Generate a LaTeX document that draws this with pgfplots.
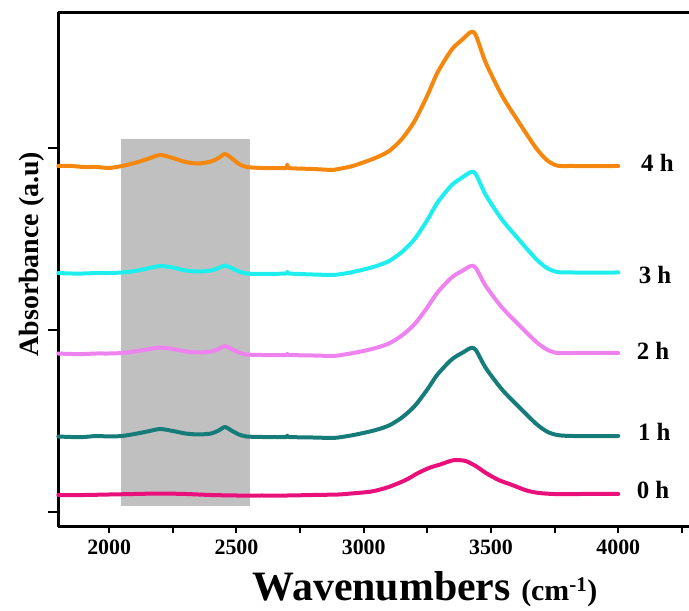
\documentclass[border=0pt]{standalone}
\usepackage{pgfplots}
\pgfplotsset{compat=1.18}
\usepackage{fontspec}
\setmainfont{Liberation Serif}
\definecolor{c0}{RGB}{234,16,124}
\definecolor{c1}{RGB}{22,124,122}
\definecolor{c2}{RGB}{238,130,238}
\definecolor{c3}{RGB}{30,238,238}
\definecolor{c4}{RGB}{245,135,15}
\definecolor{shade}{RGB}{192,192,192}
\begin{document}
\begin{tikzpicture}
\begin{axis}[
  at={(58.3bp,84.3bp)}, anchor=south west,
  width=630.7bp, height=514.4bp, scale only axis,
  xmin=1800, xmax=4278, ymin=-14.7, ymax=499.7,
  axis y line*=left,
  axis line style={line width=2.5bp},
  every tick/.style={black, line width=2bp},
  tick align=outside, xtick pos=bottom,
  major tick length=6bp, minor tick length=6bp,
  xtick={2000,2500,3000,3500,4000},
  xticklabels={2000,2500,3000,3500,4000},
  minor xtick={2250,2750,3250,3750,4250},
  ytick=\empty,
  extra y ticks={0,182,364}, extra y tick labels={},
  extra y tick style={major tick length=10bp},
  /pgf/number format/assume math mode=true,
  tick label style={font=\bfseries\fontsize{22}{22}\selectfont},
  xticklabel style={yshift=-4bp},
  xlabel={\bfseries\fontsize{42}{42}\selectfont Wavenumbers \fontsize{30}{30}\selectfont(cm\textsuperscript{-1})},
  xlabel style={at={(axis description cs:0.5814,-0.143)}, anchor=base},
  ylabel={\bfseries\fontsize{28}{28}\selectfont Absorbance (a.u)},
  ylabel style={at={(axis description cs:-0.032,0.53)}, anchor=base},
  clip=false,
  every axis plot/.append style={line width=4bp, line join=round, line cap=round, smooth, tension=0.45},
]
\addplot[fill=shade, draw=none, line width=0pt, sharp plot] coordinates {(2046,6) (2553,6) (2553,373) (2046,373)} -- cycle;

% 0 h
\addplot[c0] coordinates {
(1800,17)(1900,17)(2000,17.5)(2100,18)(2200,18.5)(2300,18)(2400,17)(2500,16.5)(2600,16.5)(2700,16.5)(2800,17)(2900,17.5)(2950,18.5)
(3031,20.5)(3098,25)(3165,32)(3210,38.5)(3256,44)(3300,47.5)(3340,51)(3362,52)(3400,51)(3440,46)(3480,39)(3530,32)(3583,27)(3640,21.5)(3689,19)(3750,18)(3850,18)(4000,18)};

% 1 h
\addplot[c1] coordinates {
(1800,75.5)(1850,75)(1900,75)(1950,76)(2000,75.5)(2050,76)(2100,78)(2150,80.5)(2200,83)(2250,81)(2300,78.5)(2350,77.5)(2400,78.5)(2430,81.5)(2455,85)(2480,81.5)(2510,77.5)(2540,75.5)(2600,75)(2650,75)(2695,75)(2700,76.5)(2705,75)(2800,74.5)(2880,74)(2900,74.5)
(2950,76.5)(3000,79.1)(3050,82.2)(3100,86.6)(3150,94.5)(3200,105.9)(3250,122.6)(3290,137.6)(3346,152.6)(3390,159.6)(3421,164)(3440,162.2)(3480,143.8)(3543,122.6)(3610,105)(3677,88.3)(3720,80.4)(3760,77)(3820,76)(4000,76)};

% 2 h
\addplot[c2] coordinates {
(1800,158.5)(1850,158)(1900,158)(1950,158.5)(2000,158.5)(2050,159)(2100,160.5)(2150,162.5)(2200,164.5)(2250,163)(2300,160.5)(2350,159.5)(2400,160.5)(2430,163)(2455,166)(2480,163)(2510,159.5)(2540,157.5)(2600,157)(2695,157)(2700,158)(2705,157)(2800,156.5)(2880,156)(2900,156.5)
(2950,158.6)(3000,161.1)(3050,164.2)(3100,168.6)(3150,176.5)(3200,187.9)(3250,204.6)(3290,219.6)(3346,234.6)(3390,241.6)(3421,246)(3440,244.2)(3480,225.8)(3543,204.6)(3610,187)(3677,170.3)(3720,162.4)(3760,159)(3820,159)(4000,159)};

% 3 h
\addplot[c3] coordinates {
(1800,239)(1850,238.5)(1900,238.5)(1950,239)(2000,239)(2050,239.5)(2100,241)(2150,243.5)(2200,246)(2250,244.5)(2300,241.5)(2350,240.5)(2400,241.5)(2430,244)(2455,246.5)(2480,244)(2510,240.5)(2540,238.5)(2600,238)(2695,238.5)(2700,240)(2705,238.5)(2800,237.5)(2880,237)(2900,237.5)
(2950,239.6)(3000,242.5)(3050,246)(3100,251)(3150,260)(3200,273)(3250,292)(3290,309.5)(3346,327)(3390,335)(3421,340)(3440,338)(3480,316.8)(3543,292.5)(3610,272.3)(3677,253)(3720,244)(3760,240)(3820,239.5)(4000,239.5)};

% 4 h
\addplot[c4] coordinates {
(1800,346)(1850,346)(1900,345)(1950,345)(2000,344)(2050,346)(2100,349)(2150,353)(2200,357)(2250,354)(2300,350)(2350,348.5)(2400,350.5)(2430,354)(2455,358)(2480,354)(2510,348)(2540,345)(2600,344)(2650,344)(2695,344)(2700,347.5)(2705,344)(2800,343)(2880,342)(2900,343)
(2950,345.5)(3000,349.7)(3050,354.5)(3100,361)(3150,373)(3200,391)(3250,416.5)(3290,439.5)(3346,462.5)(3390,473)(3421,480)(3440,477)(3480,449)(3543,416.5)(3610,389.5)(3677,364)(3720,351.8)(3760,346.4)(3820,346)(4000,346)};

\node[anchor=west, inner sep=0pt, font=\bfseries\fontsize{25}{25}\selectfont] at (axis cs:4089,349) {4 h};
\node[anchor=west, inner sep=0pt, font=\bfseries\fontsize{25}{25}\selectfont] at (axis cs:4080,237) {3 h};
\node[anchor=west, inner sep=0pt, font=\bfseries\fontsize{25}{25}\selectfont] at (axis cs:4072,161) {2 h};
\node[anchor=west, inner sep=0pt, font=\bfseries\fontsize{25}{25}\selectfont] at (axis cs:4077,80) {1 h};
\node[anchor=west, inner sep=0pt, font=\bfseries\fontsize{25}{25}\selectfont] at (axis cs:4072,22) {0 h};
\end{axis}
\pgfresetboundingbox
\useasboundingbox (0,0) rectangle (689bp,611bp);
\end{tikzpicture}
\end{document}
